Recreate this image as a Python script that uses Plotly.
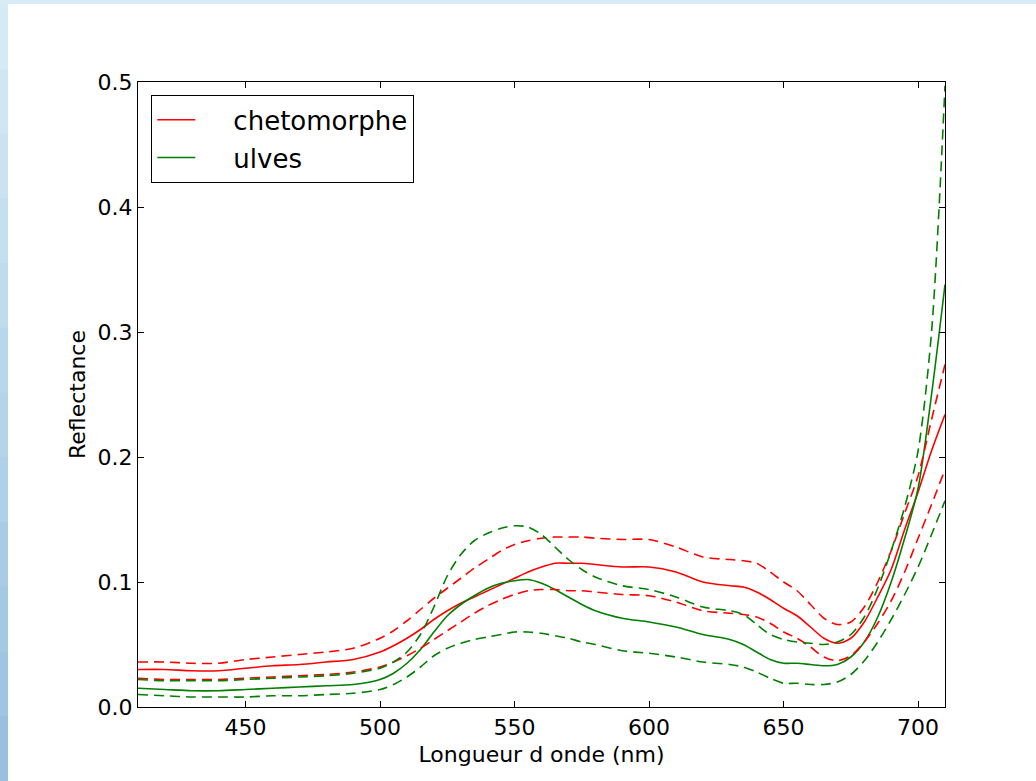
import plotly.graph_objects as go

# Wavelength grid (nm)
wavelength = [410, 420, 430, 440, 450, 460, 470, 480, 490, 500, 505, 510, 515, 520, 525,
              530, 535, 540, 545, 550, 555, 560, 565, 570, 575, 580, 590, 600, 610, 620,
              630, 635, 640, 645, 650, 655, 660, 665, 670, 675, 680, 685, 690, 695, 700,
              705, 710]

cheto_mean = [0.030, 0.030, 0.029, 0.029, 0.031, 0.033, 0.034, 0.036, 0.038, 0.044, 0.049,
              0.055, 0.062, 0.070, 0.077, 0.083, 0.088, 0.093, 0.098, 0.103, 0.108, 0.112,
              0.115, 0.115, 0.115, 0.114, 0.112, 0.112, 0.108, 0.100, 0.097, 0.096, 0.092,
              0.086, 0.079, 0.073, 0.064, 0.055, 0.051, 0.055, 0.068, 0.088, 0.110, 0.142,
              0.172, 0.205, 0.234]
cheto_upper = [0.036, 0.036, 0.035, 0.035, 0.038, 0.040, 0.042, 0.044, 0.047, 0.055, 0.061,
               0.069, 0.078, 0.087, 0.095, 0.103, 0.111, 0.118, 0.125, 0.130, 0.133, 0.135,
               0.136, 0.136, 0.136, 0.135, 0.134, 0.134, 0.128, 0.120, 0.118, 0.117, 0.115,
               0.108, 0.100, 0.093, 0.082, 0.071, 0.066, 0.068, 0.080, 0.100, 0.125, 0.155,
               0.185, 0.230, 0.274]
cheto_lower = [0.023, 0.022, 0.022, 0.022, 0.023, 0.024, 0.025, 0.026, 0.028, 0.032, 0.036,
               0.041, 0.047, 0.054, 0.061, 0.068, 0.075, 0.081, 0.086, 0.090, 0.093, 0.094,
               0.094, 0.093, 0.093, 0.092, 0.090, 0.089, 0.084, 0.077, 0.075, 0.074, 0.072,
               0.067, 0.060, 0.055, 0.048, 0.040, 0.037, 0.041, 0.052, 0.067, 0.085, 0.108,
               0.135, 0.162, 0.190]

ulves_mean = [0.015, 0.014, 0.013, 0.013, 0.014, 0.015, 0.016, 0.017, 0.018, 0.022, 0.027,
              0.035, 0.046, 0.060, 0.073, 0.082, 0.089, 0.095, 0.099, 0.101, 0.102, 0.099,
              0.094, 0.088, 0.082, 0.077, 0.071, 0.068, 0.064, 0.058, 0.054, 0.050, 0.044,
              0.038, 0.035, 0.035, 0.034, 0.033, 0.034, 0.040, 0.052, 0.072, 0.100, 0.135,
              0.175, 0.250, 0.338]
ulves_upper = [0.022, 0.021, 0.021, 0.021, 0.022, 0.023, 0.024, 0.025, 0.027, 0.031, 0.036,
               0.044, 0.058, 0.080, 0.105, 0.122, 0.133, 0.139, 0.143, 0.145, 0.144, 0.138,
               0.128, 0.118, 0.110, 0.104, 0.097, 0.094, 0.088, 0.080, 0.077, 0.074, 0.066,
               0.058, 0.054, 0.052, 0.051, 0.050, 0.052, 0.058, 0.072, 0.095, 0.125, 0.160,
               0.205, 0.300, 0.497]
ulves_lower = [0.010, 0.009, 0.008, 0.008, 0.008, 0.009, 0.009, 0.010, 0.011, 0.014, 0.018,
               0.024, 0.032, 0.041, 0.047, 0.051, 0.054, 0.056, 0.058, 0.060, 0.060, 0.059,
               0.057, 0.055, 0.052, 0.050, 0.045, 0.043, 0.040, 0.036, 0.034, 0.032, 0.028,
               0.023, 0.019, 0.019, 0.018, 0.018, 0.020, 0.026, 0.037, 0.052, 0.070, 0.090,
               0.112, 0.138, 0.165]

x_ticks = [450, 500, 550, 600, 650, 700]
y_ticks = [0.0, 0.1, 0.2, 0.3, 0.4, 0.5]
legend_names = ["chetomorphe", "ulves"]

RED = "#ff0000"
GREEN = "#008000"
FONT = "DejaVu Sans"
DASH = "10px,6px"
NB = "\u00a0"

fig = go.Figure()

def add(y, color, name, dash, show):
    label = NB * 4 + name if show else name
    fig.add_trace(go.Scatter(
        x=wavelength, y=y, mode="lines", name=label,
        line=dict(color=color, width=1.6, dash=dash, shape="spline", smoothing=0.8),
        showlegend=show, legendgroup=name,
        hoverinfo="skip"))

add(cheto_mean, RED, legend_names[0], "solid", True)
add(ulves_mean, GREEN, legend_names[1], "solid", True)
add(cheto_upper, RED, "chetomorphe_sup", DASH, False)
add(cheto_lower, RED, "chetomorphe_inf", DASH, False)
add(ulves_upper, GREEN, "ulves_sup", DASH, False)
add(ulves_lower, GREEN, "ulves_inf", DASH, False)

W, H = 1036, 781
L, R, T, B = 138, 91, 82, 74
pw, ph = W - L - R, H - T - B

def px_x(px):
    return (px - L) / pw

def px_y(py):
    return (H - B - py) / ph

# slide: white page with light-blue border (left border darkening towards the bottom)
fig.add_shape(type="rect", xref="paper", yref="paper",
              x0=px_x(8), x1=px_x(W + 5), y0=px_y(H + 5), y1=px_y(4),
              fillcolor="white", line=dict(width=0), layer="below")
n_seg = 12
c_top = (216, 236, 246)
c_bot = (150, 192, 224)
for i in range(n_seg):
    f = (i + 0.5) / n_seg
    col = tuple(int(c_top[k] + (c_bot[k] - c_top[k]) * f) for k in range(3))
    y0p = 4 + (H - 4) * i / n_seg
    y1p = 4 + (H - 4) * (i + 1) / n_seg + 1
    fig.add_shape(type="rect", xref="paper", yref="paper",
                  x0=px_x(-2), x1=px_x(8), y0=px_y(y1p), y1=px_y(y0p),
                  fillcolor="rgb(%d,%d,%d)" % col, line=dict(width=0), layer="below")

axis_common = dict(
    showline=True, linecolor="black", linewidth=1.3, mirror="ticks",
    ticks="inside", ticklen=6, tickwidth=1, tickcolor="black",
    showgrid=False, zeroline=False,
    tickfont=dict(family=FONT, size=22, color="black"),
)

fig.update_layout(
    width=W, height=H,
    margin=dict(l=L, r=R, t=T, b=B, pad=0),
    paper_bgcolor="#d8ecf6",
    plot_bgcolor="white",
    font=dict(family=FONT, color="black"),
    xaxis=dict(range=[410, 710], tickvals=x_ticks,
               ticktext=[str(v) for v in x_ticks],
               title=dict(text="Longueur d onde (nm)", font=dict(family=FONT, size=22),
                          standoff=8),
               **axis_common),
    yaxis=dict(range=[0, 0.5], tickvals=y_ticks,
               ticktext=[f"{v:.1f}" for v in y_ticks],
               title=dict(text="Reflectance", font=dict(family=FONT, size=22),
                          standoff=5),
               **axis_common),
    legend=dict(x=px_x(151), y=px_y(95), xanchor="left", yanchor="top",
                bgcolor="white", bordercolor="black", borderwidth=1.3,
                font=dict(family=FONT, size=26, color="black"),
                itemwidth=38, traceorder="grouped", tracegroupgap=1),
    showlegend=True,
)

fig.write_html("out.html", config={"displayModeBar": False},
               post_script="document.body.style.margin='0';")
